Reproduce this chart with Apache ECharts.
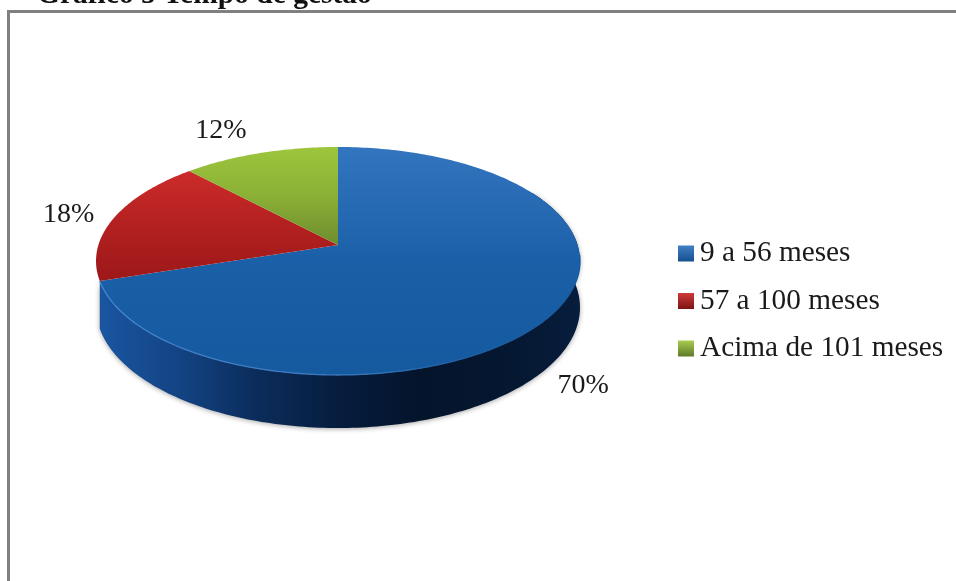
<!DOCTYPE html>
<html>
<head>
<meta charset="utf-8">
<style>html,body{margin:0;padding:0;background:#fff}#chart{width:956px;height:581px}</style>
<script src="https://cdn.jsdelivr.net/npm/echarts@6/dist/echarts.min.js"></script>
</head>
<body>
<div id="chart"></div>
<script>
// Chart content
const chartTitle = 'Gráfico 5 Tempo de gestão';
const categories = ['9 a 56 meses', '57 a 100 meses', 'Acima de 101 meses'];
const shares = [70, 18, 12];

// Disc projection: a tilted circle seen in perspective
const disc = { cx: 338, cy: 245, a: 239.6, b: 111.75, k: 0.1403, depth: 45.6 };
const labelOffsets = [[34, 69], [-45, -4], [-39, -22]];
const wallArc = [60, 252];

const topPaint = [
  { y0: 147, y1: 375, stops: ['#3375bf', '#1a60a8', '#155a9f'] },
  { y0: 170, y1: 282, stops: ['#cc2c2b', '#b32020', '#9c1819'] },
  { y0: 147, y1: 245, stops: ['#9dc63d', '#8bb036', '#6d8c2d'] }
];
const wallPaint = ['#1a56a2', '#134484', '#0b2c5a', '#061d3e', '#04142b', '#051730', '#071d3c'];
const legendPaint = [
  ['#3f80c6', '#174f8e'],
  ['#cf3a38', '#7e1213'],
  ['#a9cc52', '#5e7a26']
];

function project(deg, drop) {
  const t = deg * Math.PI / 180;
  const u = Math.sin(t), v = Math.cos(t);
  const w = 1 + disc.k * v;
  return [
    disc.cx + disc.a * u / w,
    disc.cy - disc.b * v / w + (drop ? disc.depth / w : 0)
  ];
}

function arcPoints(from, to, drop) {
  const pts = [];
  const n = Math.max(2, Math.ceil(Math.abs(to - from)));
  for (let i = 0; i <= n; i++) pts.push(project(from + (to - from) * i / n, drop));
  return pts;
}

function sliceRange(index) {
  const total = shares.reduce((s, v) => s + v, 0);
  const before = shares.slice(0, index).reduce((s, v) => s + v, 0);
  return [before / total * 360, (before + shares[index]) / total * 360];
}

function linear(x, y, x2, y2, colors) {
  return {
    type: 'linear', global: true, x, y, x2, y2,
    colorStops: colors.map((c, i) => ({ offset: i / (colors.length - 1), color: c }))
  };
}

// Only the near part of the rim has a visible wall
function renderWall(index) {
  return function (params, api) {
    const [start, end] = sliceRange(index);
    api.value(0);
    const from = Math.max(start, wallArc[0]), to = Math.min(end, wallArc[1]);
    if (to <= from) return { type: 'group', children: [] };
    const pts = arcPoints(from, to, false).concat(arcPoints(to, from, true));
    return {
      type: 'polygon',
      shape: { points: pts },
      style: {
        fill: linear(97, 0, 580, 0, wallPaint),
        shadowBlur: 5, shadowColor: 'rgba(0,0,0,0.35)', shadowOffsetY: 1
      },
      silent: true
    };
  };
}

function renderTop(index) {
  return function (params, api) {
    const [start, end] = sliceRange(index);
    const value = api.value(0);
    const paint = topPaint[index];
    const pts = [[disc.cx, disc.cy]].concat(arcPoints(start, end, false));
    const mid = project((start + end) / 2, false);
    const off = labelOffsets[index];
    const children = [{
      type: 'polygon',
      shape: { points: pts },
      style: { fill: linear(0, paint.y0, 0, paint.y1, paint.stops) }
    }];
    if (index === 0) {
      children.push({
        type: 'polyline',
        shape: { points: arcPoints(95, end, false) },
        style: {
          fill: 'none', lineWidth: 1.3,
          stroke: linear(97, 0, 580, 0, ['#4684cd', '#3f7dc6', '#3a78c0', '#1e5fa6', '#155a9f'])
        }
      });
    }
    children.push({
      type: 'text',
      style: {
        text: value + '%',
        x: mid[0] + off[0], y: mid[1] + off[1],
        align: 'center', verticalAlign: 'middle',
        fontFamily: 'Liberation Serif', fontSize: 28, fill: '#1a1a1a'
      }
    });
    return { type: 'group', children };
  };
}

const wallSeries = categories.map((name, i) => ({
  id: 'wall' + i,
  type: 'custom',
  coordinateSystem: 'none',
  silent: true,
  z: 2,
  data: [shares[i]],
  renderItem: renderWall(i)
}));

const topSeries = categories.map((name, i) => ({
  name,
  type: 'custom',
  coordinateSystem: 'none',
  z: 3,
  itemStyle: {
    color: { type: 'linear', x: 0, y: 0, x2: 0, y2: 1,
      colorStops: [{ offset: 0, color: legendPaint[i][0] }, { offset: 1, color: legendPaint[i][1] }] }
  },
  data: [shares[i]],
  renderItem: renderTop(i)
}));

const chart = echarts.init(document.getElementById('chart'), null, { renderer: 'canvas' });
chart.setOption({
  animation: false,
  backgroundColor: '#ffffff',
  title: {
    text: chartTitle,
    left: 37, top: -19, padding: 0,
    textStyle: { fontFamily: 'Liberation Serif', fontWeight: 'bold', fontSize: 29.5, lineHeight: 29, color: '#111' }
  },
  legend: {
    orient: 'vertical',
    left: 678, top: 238.5,
    padding: 0,
    itemWidth: 16, itemHeight: 16, itemGap: 17.5,
    icon: 'rect',
    data: categories,
    textStyle: { fontFamily: 'Liberation Serif', fontSize: 29.3, lineHeight: 30, color: '#1a1a1a', padding: [0, 0, 0, 1] }
  },
  tooltip: { show: false },
  graphic: [
    { type: 'rect', z: 10, silent: true, shape: { x: 7, y: 10, width: 949, height: 3 }, style: { fill: '#808080' } },
    { type: 'rect', z: 10, silent: true, shape: { x: 7, y: 10, width: 3, height: 571 }, style: { fill: '#808080' } }
  ],
  series: wallSeries.concat(topSeries)
});
</script>
</body>
</html>
